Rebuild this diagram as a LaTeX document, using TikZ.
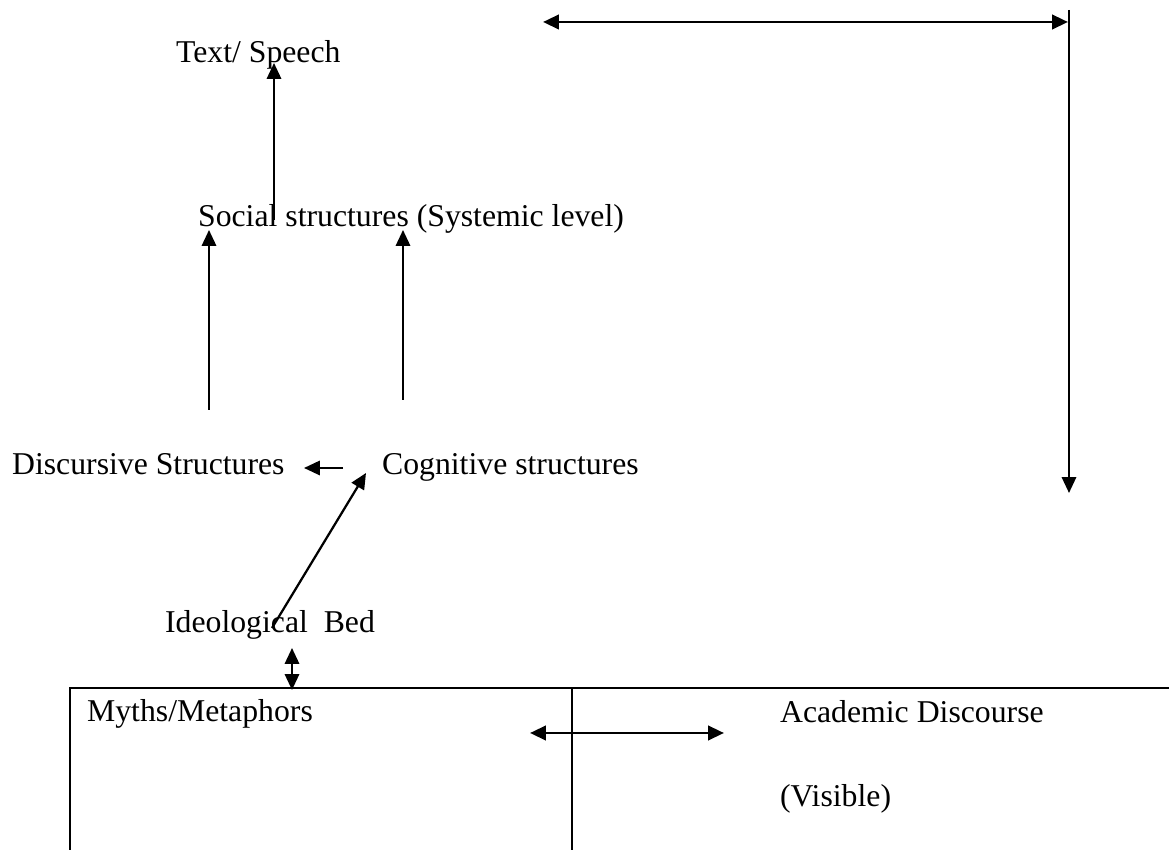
\documentclass[tikz,border=0pt]{standalone}
\usepackage{fontspec}
\setmainfont{Liberation Serif}
\usetikzlibrary{arrows.meta}

\begin{document}
\begin{tikzpicture}[x=0.378pt, y=-0.378pt, font=\fontsize{12}{14}\selectfont,
    line width=0.85pt, >={Triangle[length=6pt,width=5.4pt]},
    lbl/.style={anchor=base west, inner sep=0pt}]
  \useasboundingbox (0,0) rectangle (1169,850);

  % Levels
  \node[lbl] (speech) at (175,63) {Text/ Speech};
  \node[lbl] (social) at (197,227) {Social structures (Systemic level)};
  \node[lbl] (discursive) at (11,475) {Discursive Structures};
  \node[lbl] (cognitive) at (381,475) {Cognitive structures};
  \node[lbl] (ideo) at (164,633) {Ideological~~Bed};

  % Arrow ends
  \coordinate (socTop) at (274,220);
  \coordinate (speechIn) at (274,63);
  \coordinate (discUp) at (209,410);
  \coordinate (socInL) at (209,230);
  \coordinate (cogUp) at (403,400);
  \coordinate (socInR) at (403,230);
  \coordinate (cogOut) at (343,468);
  \coordinate (discIn) at (304,468);
  \coordinate (ideoOut) at (272,628);
  \coordinate (cogIn) at (366,473);

  \draw[->] (socTop) -- (speechIn);
  \draw[->] (discUp) -- (socInL);
  \draw[->] (cogUp) -- (socInR);
  \draw[->] (cogOut) -- (discIn);
  \draw[->] (ideoOut) -- (cogIn);

  % Feedback loop, top right
  \coordinate (loopL) at (543,22);
  \coordinate (loopR) at (1068,22);
  \coordinate (loopTop) at (1069,10);
  \coordinate (loopEnd) at (1069,493);
  \draw[<->, line width=1.1pt] (loopL) -- (loopR);
  \draw[->] (loopTop) -- (loopEnd);

  % Table
  \draw (70,850) -- (70,688) -- (1169,688);
  \draw (572,688) -- (572,850);
  \node[lbl] (myths) at (86,722) {Myths/Metaphors};
  \node[lbl] (academic) at (779,723) {Academic Discourse};
  \node[lbl] (visible) at (779,807) {(Visible)};

  \coordinate (bedTop) at (292,648);
  \coordinate (bedBot) at (292,690);
  \draw[<->] (bedTop) -- (bedBot);
  \coordinate (midL) at (530,733);
  \coordinate (midR) at (724,733);
  \draw[<->, line width=1.1pt] (midL) -- (midR);
\end{tikzpicture}
\end{document}
